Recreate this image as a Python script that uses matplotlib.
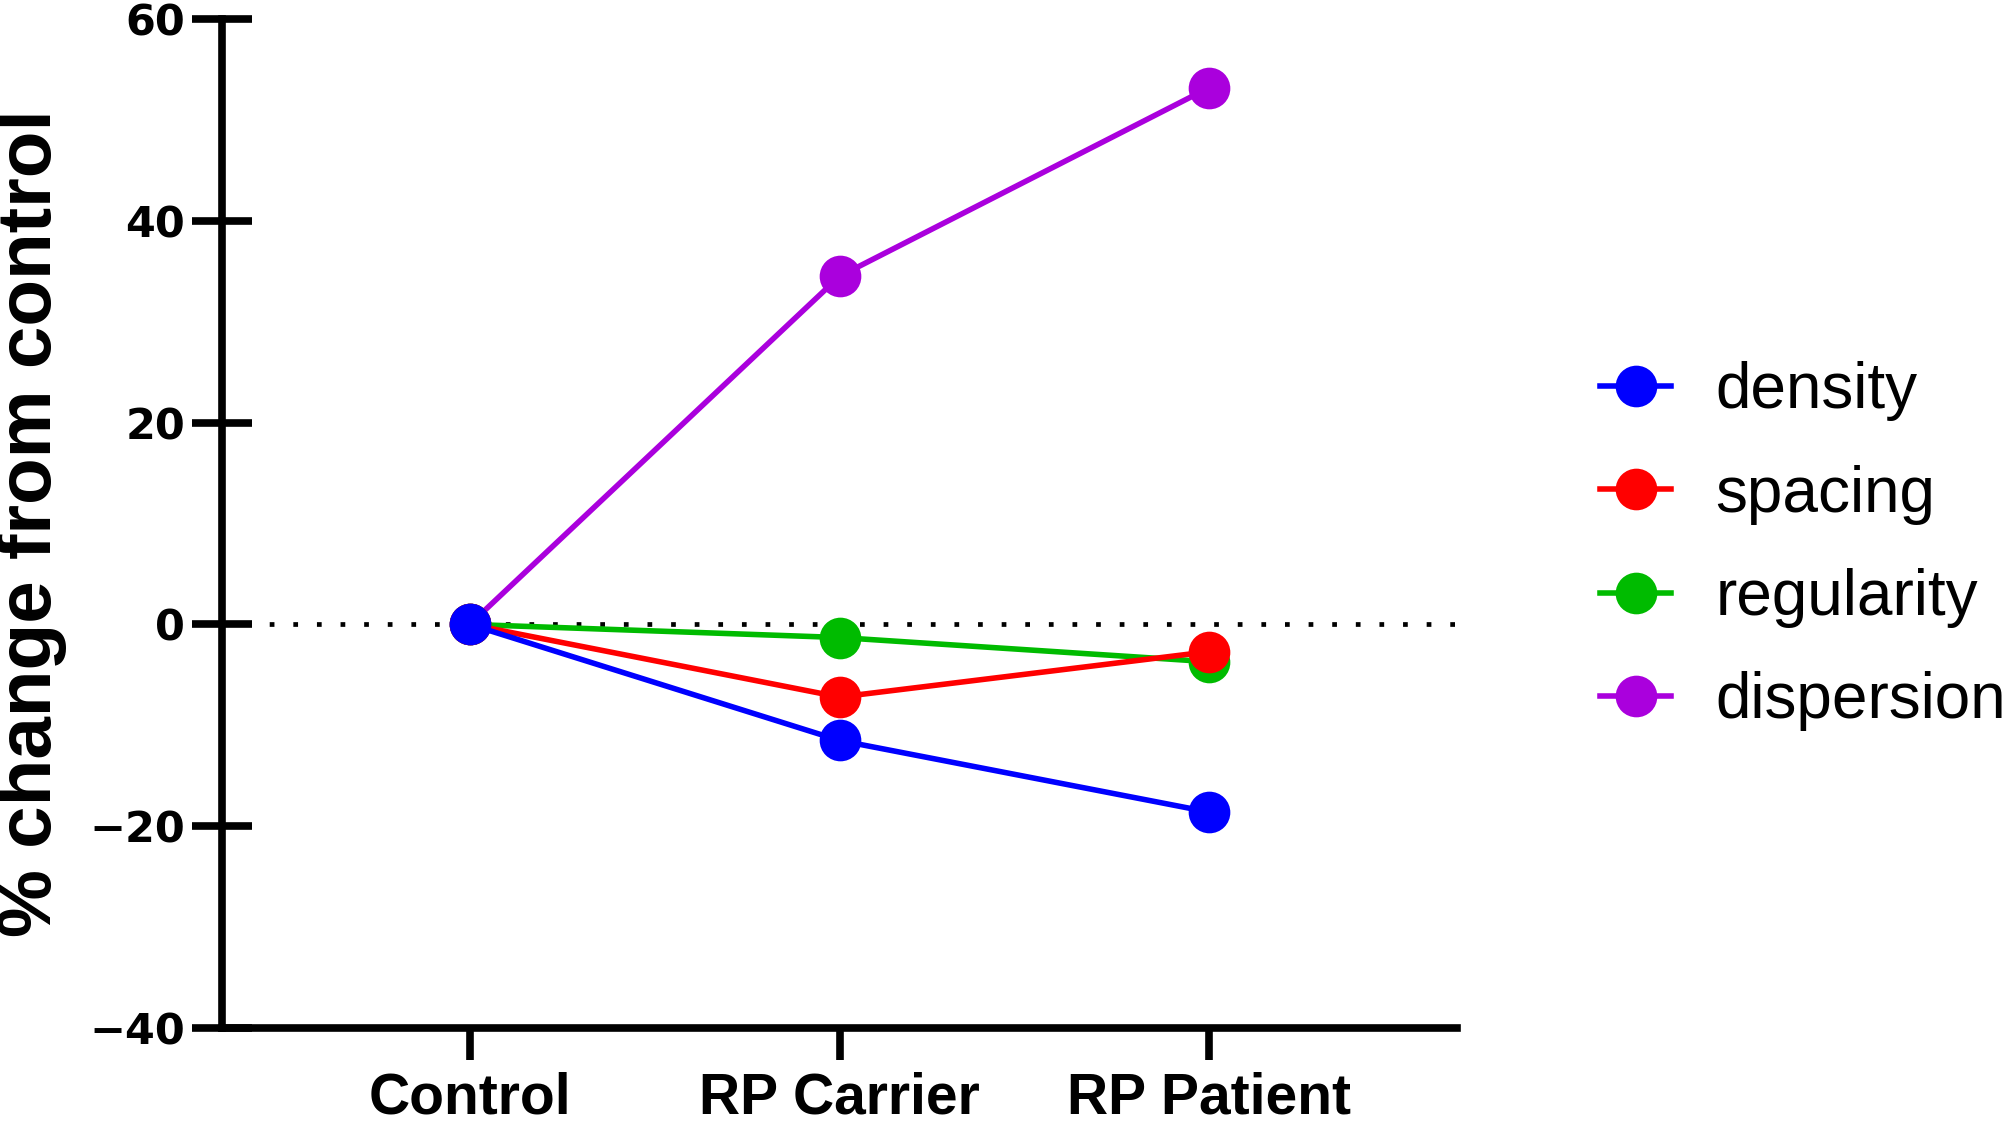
import matplotlib
matplotlib.use('Agg')
import matplotlib.pyplot as plt

groups = ['Control', 'RP Carrier', 'RP Patient']
series_names = ['density', 'spacing', 'regularity', 'dispersion']
density = [0, -11.5, -18.6]
spacing = [0, -7.2, -2.7]
regularity = [0, -1.3, -3.7]
dispersion = [0, 34.5, 53.2]
colors = ['#0000ff', '#ff0000', '#00bb00', '#aa00dd']
y_ticks = [-40, -20, 0, 20, 40, 60]

fig = plt.figure(figsize=(20.08, 11.24), dpi=100)
ax = fig.add_axes([0.1106, 0.0854, 0.6150, 0.8977])

xs = list(range(len(groups)))
ax.plot([-0.67, 2.67], [0, 0], color='black', lw=3.4, linestyle=(0, (1, 4)),
        zorder=1)

values = [density, spacing, regularity, dispersion]
handles = {}
# draw in reverse so density sits on top, like the original
for name, vals, col in reversed(list(zip(series_names, values, colors))):
    h, = ax.plot(xs, vals, color=col, lw=4, marker='o', markersize=30,
                 markeredgewidth=0, label=name, zorder=3)
    handles[name] = h

ax.set_xlim(-0.67, 2.67)
ax.set_ylim(-40, 60)
ax.set_yticks(y_ticks)
ax.set_xticks(xs)
ax.set_xticklabels(groups, fontfamily='Liberation Sans', fontweight='bold',
                   fontsize=41)
ax.set_yticklabels([str(t).replace('-', '\u2212') for t in y_ticks],
                   fontfamily='DejaVu Sans', fontweight='heavy', fontsize=31)

for side in ['top', 'right']:
    ax.spines[side].set_visible(False)
for side in ['left', 'bottom']:
    ax.spines[side].set_linewidth(5.5)

ax.tick_params(axis='y', direction='inout', length=43, width=5.5, pad=5)
ax.tick_params(axis='x', direction='out', length=23, width=5.5, pad=8)

ax.set_ylabel('% change from control', fontfamily='Liberation Sans',
              fontweight='bold', fontsize=55, labelpad=16)

leg = fig.legend([handles[n] for n in series_names], series_names,
                 loc='center left', bbox_to_anchor=(0.797, 0.514),
                 frameon=False, borderpad=0, borderaxespad=0,
                 handlelength=1.1, handletextpad=0.7, labelspacing=0.68,
                 prop={'family': 'Liberation Sans', 'size': 46})

fig.savefig('out.png', dpi=100)
